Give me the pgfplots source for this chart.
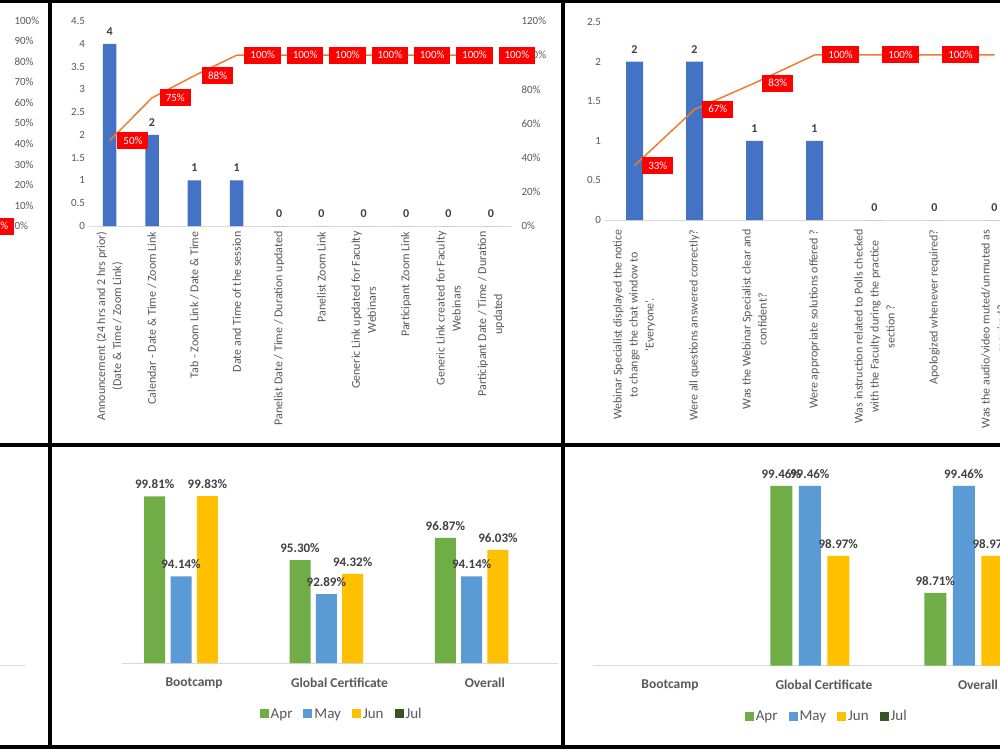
\documentclass[border=0pt]{standalone}
\usepackage{pgfplots}
\pgfplotsset{compat=1.18}
\usepackage{fontspec}
\setmainfont{Carlito}

\definecolor{barblue}{HTML}{4472C4}
\definecolor{cumorange}{HTML}{ED7D31}
\definecolor{lblred}{HTML}{FF0000}
\definecolor{txtgray}{HTML}{595959}
\definecolor{lblgray}{HTML}{404040}
\definecolor{axgray}{HTML}{D9D9D9}
\definecolor{aprgreen}{HTML}{70AD47}
\definecolor{mayblue}{HTML}{5B9BD5}
\definecolor{jungold}{HTML}{FFC000}
\definecolor{juldark}{HTML}{375623}

\newcommand\fsz[2]{\fontsize{#1}{#2}\selectfont}

\pgfplotsset{
  panel/.style={
    scale only axis,
    /pgf/number format/assume math mode=true,
    major tick length=0pt,
    tick style={draw=none},
    tick label style={text=txtgray},
  },
  pareto base/.style={
    panel,
    axis x line*=bottom,
    axis y line*=left,
    x axis line style={draw=axgray, line width=1pt},
    y axis line style={draw=none},
    y tick label style={font=\fsz{11}{13}},
    x tick label style={rotate=90, anchor=east, align=center, font=\fsz{12}{16}},
  },
  pareto cum/.style={
    panel,
    axis y line*=right,
    axis x line=none,
    y axis line style={draw=none},
    ymin=0, ymax=120,
    ytick={0,20,...,120},
    yticklabel={\pgfmathprintnumber{\tick}\%},
    yticklabel shift=6pt,
    y tick label style={font=\fsz{11}{13}},
  },
  count bars/.style={
    ybar, bar width=13.5pt, fill=barblue, draw=none,
    point meta=y, nodes near coords,
    every node near coord/.append style={font=\bfseries\fsz{12}{14}, text=lblgray, yshift=5pt},
  },
  cum line/.style={
    draw=cumorange, line width=1.5pt, mark=none,
    point meta=y,
    nodes near coords={\pgfmathprintnumber{\pgfplotspointmeta}\%},
    every node near coord/.append style={anchor=west, xshift=7pt, fill=lblred,
      text=white, font=\fsz{11}{13}, inner xsep=6pt, inner ysep=0pt,
      text height=8pt, text depth=1pt, minimum height=17pt},
  },
  month bars/.style={
    panel,
    axis x line*=bottom, axis y line=none,
    x axis line style={draw=axgray, line width=1pt},
    xmin=0.5, xmax=3.5,
    xtick={1,2,3}, xticklabels={Bootcamp, Global Certificate, Overall},
    x tick label style={font=\bfseries\fsz{13.5}{15}},
    xticklabel shift=11pt,
    legend columns=-1,
    legend style={draw=none, fill=none, font=\fsz{15}{17}, text=txtgray,
      /tikz/every even column/.append style={column sep=9pt}},
    legend image code/.code={\fill[##1] (0pt,-4.5pt) rectangle (9pt,4.5pt);},
  },
  pct bar/.style={
    ybar, draw=none, point meta=y, bar shift=#1,
    nodes near coords={\pgfmathprintnumber[fixed,fixed zerofill,precision=2]{\pgfplotspointmeta}\%},
    every node near coord/.append style={font=\bfseries\fsz{13}{15}, text=lblgray, yshift=4pt, xshift=#1},
  },
}

% counts per issue and their cumulative share
\pgfplotstableread{
x count cum
1 4 50
2 2 75
3 1 88
4 1 100
5 0 100
6 0 100
7 0 100
8 0 100
9 0 100
10 0 100
}\issuesA
\pgfplotstableread{
x count cum
1 2 33
2 2 67
3 1 83
4 1 100
5 0 100
6 0 100
7 0 100
}\issuesB

\begin{document}
\begin{tikzpicture}
\path[use as bounding box, fill=white] (0pt,0pt) rectangle (1000pt,-749pt);

% ---- top left strip: cumulative percentage scale
\begin{scope}
\clip (0pt,-3pt) rectangle (48pt,-442pt);
\begin{axis}[pareto cum, width=100pt, height=205.5pt, at={(5pt,-226pt)}, anchor=south east,
  xmin=-100, xmax=0, ymax=100, ytick={0,10,...,100}]
\addplot[cum line, draw=none] coordinates {(-24,0)};
\end{axis}
\end{scope}

% ---- top middle: Pareto of communication issues
\begin{scope}
\clip (52pt,-3pt) rectangle (561pt,-442pt);
\begin{axis}[pareto base, width=423.5pt, height=205pt, at={(88.5pt,-226pt)}, anchor=south west,
  xmin=0.5, xmax=10.5, ymin=0, ymax=4.5,
  ytick={0,0.5,1,1.5,2,2.5,3,3.5,4,4.5},
  xtick={1,...,10},
  xticklabel shift=2pt,
  xticklabels={
    {Announcement (24 hrs and 2 hrs prior)\\(Date \& Time / Zoom Link)},
    {Calendar - Date \& Time / Zoom Link},
    {Tab - Zoom Link / Date \& Time},
    {Date and Time of the session},
    {Panelist Date / Time / Duration updated},
    {Panelist Zoom Link},
    {Generic Link updated for Faculty\\Webinars},
    {Participant Zoom Link},
    {Generic Link created for Faculty\\Webinars},
    {Participant Date / Time / Duration\\updated}},
]
\addplot[count bars] table[x=x, y=count] {\issuesA};
\end{axis}
\begin{axis}[pareto cum, width=423.5pt, height=205pt, at={(88.5pt,-226pt)}, anchor=south west,
  xmin=0.5, xmax=10.5]
\addplot[cum line] table[x=x, y=cum] {\issuesA};
\end{axis}
\end{scope}

% ---- top right: Pareto of webinar checklist misses
\begin{scope}
\clip (565pt,-3pt) rectangle (1000pt,-442pt);
\begin{axis}[pareto base, width=420pt, height=198pt, at={(604.5pt,-220pt)}, anchor=south west,
  xmin=0.5, xmax=7.5, ymin=0, ymax=2.5,
  ytick={0,0.5,1,1.5,2,2.5},
  xtick={1,...,7},
  xticklabel shift=6pt,
  xticklabels={
    {Webinar Specialist displayed the notice\\to change the chat window to\\`Everyone'.},
    {Were all questions answered correctly?},
    {Was the Webinar Specialist clear and\\confident?},
    {Were appropriate solutions offered ?},
    {Was instruction related to Polls checked\\with the Faculty during the practice\\section ?},
    {Apologized whenever required?},
    {Was the audio/video muted/unmuted as\\required?}},
]
\addplot[count bars, bar width=17pt] table[x=x, y=count] {\issuesB};
\end{axis}
\begin{axis}[pareto cum, width=420pt, height=198pt, at={(604.5pt,-220pt)}, anchor=south west,
  xmin=0.5, xmax=7.5]
\addplot[cum line] table[x=x, y=cum] {\issuesB};
\end{axis}
\end{scope}

% ---- bottom left strip: baseline of a neighbouring chart
\begin{scope}
\clip (0pt,-446pt) rectangle (48pt,-745pt);
\begin{axis}[panel, width=200pt, height=100pt, at={(25pt,-665.7pt)}, anchor=south east,
  xmin=0, xmax=1, ymin=0, ymax=1, axis x line*=bottom, axis y line=none,
  x axis line style={draw=axgray, line width=1pt}, xtick=\empty]
\end{axis}
\end{scope}

% ---- bottom middle: monthly scores by programme
\begin{scope}
\clip (52pt,-446pt) rectangle (561pt,-745pt);
\begin{axis}[month bars, width=436pt, height=197.4pt, at={(121.5pt,-663pt)}, anchor=south west,
  ymin=88, ymax=102,
  legend style={at={(0.505,-0.258)}, anchor=center}]
\addplot[pct bar=-39.45pt, fill=aprgreen, bar width=21pt] coordinates {(1,99.81) (2,95.30) (3,96.87)};
\addlegendentry{Apr}
\addplot[pct bar=-13.15pt, fill=mayblue, bar width=21pt] coordinates {(1,94.14) (2,92.89) (3,94.14)};
\addlegendentry{May}
\addplot[pct bar=13.15pt, fill=jungold, bar width=21pt] coordinates {(1,99.83) (2,94.32) (3,96.03)};
\addlegendentry{Jun}
\addlegendimage{fill=juldark, draw=none}
\addlegendentry{Jul}
\end{axis}
\end{scope}

% ---- bottom right: monthly scores by programme
\begin{scope}
\clip (565pt,-446pt) rectangle (1000pt,-745pt);
\begin{axis}[month bars, width=462pt, height=199.9pt, at={(593pt,-665.7pt)}, anchor=south west,
  ymin=98.2, ymax=99.6,
  legend style={at={(0.506,-0.252)}, anchor=center}]
\addplot[pct bar=-42.75pt, fill=aprgreen, bar width=22pt] coordinates {(2,99.46) (3,98.71)};
\addlegendentry{Apr}
\addplot[pct bar=-14.25pt, fill=mayblue, bar width=22pt] coordinates {(2,99.46) (3,99.46)};
\addlegendentry{May}
\addplot[pct bar=14.25pt, fill=jungold, bar width=22pt] coordinates {(2,98.97) (3,98.97)};
\addlegendentry{Jun}
\addlegendimage{fill=juldark, draw=none}
\addlegendentry{Jul}
\end{axis}
\end{scope}

% ---- panel frame
\draw[line width=3.5pt] (0pt,-1.5pt) -- (1000pt,-1.5pt);
\draw[line width=4pt] (0pt,-747pt) -- (1000pt,-747pt);
\draw[line width=4pt] (0pt,-444.5pt) -- (1000pt,-444.5pt);
\draw[line width=4pt] (50pt,0pt) -- (50pt,-749pt);
\draw[line width=4pt] (563pt,0pt) -- (563pt,-749pt);
\end{tikzpicture}
\end{document}
